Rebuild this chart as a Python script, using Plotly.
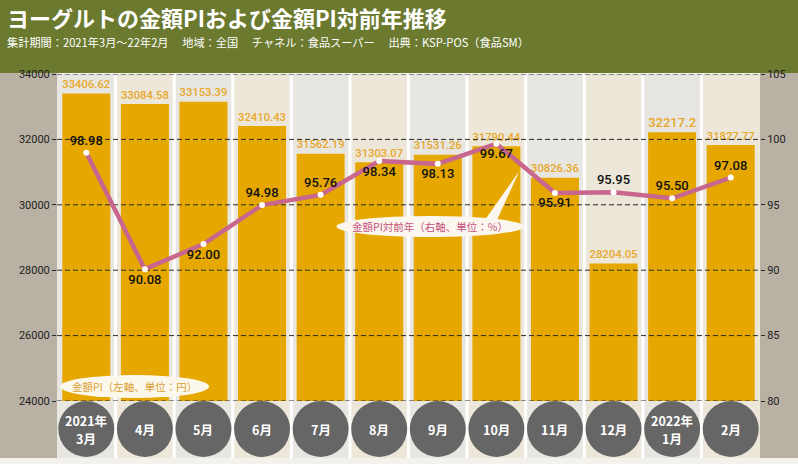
import plotly.graph_objects as go

# ---------------- data ----------------
months = ["2021年<br>3月", "4月", "5月", "6月", "7月", "8月", "9月", "10月",
          "11月", "12月", "2022年<br>1月", "2月"]
pi_values = [33406.62, 33084.58, 33153.39, 32410.43, 31562.19, 31303.07,
             31531.26, 31790.44, 30826.36, 28204.05, 32217.2, 31827.77]
yoy_values = [98.98, 90.08, 92.00, 94.98, 95.76, 98.34, 98.13, 99.67,
              95.91, 95.95, 95.50, 97.08]
yoy_label_side = ["top", "bottom", "bottom", "top", "top", "bottom", "bottom",
                  "bottom", "bottom", "top", "top", "top"]
left_ticks = [24000, 26000, 28000, 30000, 32000, 34000]
right_ticks = [80, 85, 90, 95, 100, 105]

title = "ヨーグルトの金額PIおよび金額PI対前年推移"
subtitle = ("集計期間：2021年3月～22年2月　 地域：全国　 チャネル：食品スーパー　 "
            "出典：KSP-POS（食品SM）")
left_note = "金額PI（左軸、単位：円）"
right_note = "金額PI対前年（右軸、単位：%）"

# ---------------- styling ----------------
W, H = 798, 464
ML, MR, MT, MB = 57, 34, 74, 63
PW, PH = W - ML - MR, H - MT - MB
NUM = "Roboto, sans-serif"
JP = "Noto Sans CJK JP, sans-serif"
BAR = "#e6a800"
LINE = "#c8668e"
GREEN = "#6b7a2f"
SIDE = "#b8b1a4"


def px_x(px):
    return (px - ML) / PW


def px_y(py):
    return (H - MB - py) / PH


n = len(months)
idx = list(range(n))

fig = go.Figure()

fig.add_trace(go.Bar(
    x=idx, y=pi_values,
    marker=dict(color=BAR, line=dict(width=0)),
    text=[f"{v:.2f}".rstrip("0").rstrip(".") for v in pi_values],
    textposition="outside",
    textfont=dict(family=NUM, size=14, color="#e7a82c", weight=500),
    hoverinfo="skip",
))

# dashed gridlines drawn between bars and line
gx, gy = [], []
for t in left_ticks:
    gx += [-0.5, n - 0.5, None]
    gy += [t, t, None]
fig.add_trace(go.Scatter(
    x=gx, y=gy, mode="lines",
    line=dict(color="#2a2a2a", width=1, dash="5px,3px"),
    hoverinfo="skip", cliponaxis=False,
))

fig.add_trace(go.Scatter(
    x=idx, y=yoy_values, yaxis="y2",
    mode="lines+markers+text",
    line=dict(color=LINE, width=4.5),
    marker=dict(size=6, color="white", line=dict(width=0)),
    text=[f"{v:.2f}" for v in yoy_values],
    textposition=[f"{s} center" for s in yoy_label_side],
    textfont=dict(family=NUM, size=13, color="#111111", weight=500),
    cliponaxis=False, hoverinfo="skip",
))

shapes = []
# header band
shapes.append(dict(type="rect", xref="paper", yref="paper", x0=-0.2, x1=1.2,
                   y0=1.0 + 1 / PH, y1=1.3, fillcolor=GREEN, line=dict(width=0),
                   layer="below"))
# side strips
bottom_y = px_y(458)
shapes.append(dict(type="rect", xref="paper", yref="paper", x0=-0.2, x1=0,
                   y0=bottom_y, y1=1.0 + 1 / PH, fillcolor=SIDE, line=dict(width=0),
                   layer="below"))
shapes.append(dict(type="rect", xref="paper", yref="paper", x0=1.0, x1=1.2,
                   y0=bottom_y, y1=1.0 + 1 / PH, fillcolor=SIDE, line=dict(width=0),
                   layer="below"))
# column stripes
for i in idx:
    shapes.append(dict(type="rect", xref="x domain", yref="paper",
                       x0=i / n, x1=(i + 1) / n, y0=bottom_y, y1=1.0,
                       fillcolor="#e8e6e1" if i % 2 == 0 else "#ede7d9",
                       line=dict(width=0), layer="below"))
for i in range(n - 1):
    shapes.append(dict(type="line", xref="x domain", yref="paper",
                       x0=(i + 1) / n, x1=(i + 1) / n, y0=bottom_y, y1=1.0,
                       line=dict(color="white", width=3), layer="below"))
# circles for month labels
cy = px_y(429)
for i in idx:
    shapes.append(dict(type="circle", xref="x domain", yref="paper",
                       xsizemode="pixel", ysizemode="pixel",
                       xanchor=(i + 0.5) / n, yanchor=cy,
                       x0=-28, x1=28, y0=-28, y1=28,
                       fillcolor="#666666", line=dict(width=0), layer="above"))
# left note ellipse
shapes.append(dict(type="circle", xref="paper", yref="paper",
                   x0=px_x(60), x1=px_x(210), y0=px_y(398), y1=px_y(375),
                   fillcolor="#fbf7ea", line=dict(width=0), layer="above"))
# right note pointer + ellipse
shapes.append(dict(type="path", xref="paper", yref="paper",
                   path=(f"M {px_x(486)},{px_y(222)} L {px_x(500)},{px_y(219)} "
                         f"L {px_x(522)},{px_y(171)} Z"),
                   fillcolor="#fbf7ee", line=dict(width=0), layer="above"))
shapes.append(dict(type="circle", xref="paper", yref="paper",
                   x0=px_x(338), x1=px_x(527), y0=px_y(237), y1=px_y(216),
                   fillcolor="#fbf7ee", line=dict(width=0), layer="above"))

annotations = []
annotations.append(dict(xref="paper", yref="paper", x=px_x(5), y=px_y(17),
                        xanchor="left", yanchor="middle", showarrow=False,
                        text=f"<b>{title}</b>",
                        font=dict(family=JP, size=22, color="white")))
annotations.append(dict(xref="paper", yref="paper", x=px_x(5), y=px_y(42),
                        xanchor="left", yanchor="middle", showarrow=False,
                        text=subtitle,
                        font=dict(family=JP, size=11.2, color="white")))
for i, m in enumerate(months):
    parts = m.split("<br>")
    k = len(parts)
    for j, p in enumerate(parts):
        annotations.append(dict(xref="x", yref="paper", x=i, y=cy,
                                yshift=(k - 1) * 9 - j * 18,
                                xanchor="center", yanchor="middle",
                                showarrow=False, text=f"<b>{p}</b>",
                                font=dict(family=JP, size=12.5, color="white")))
annotations.append(dict(xref="paper", yref="paper", x=px_x(135), y=px_y(386.5),
                        xanchor="center", yanchor="middle", showarrow=False,
                        text=left_note,
                        font=dict(family=JP, size=10.5, color="#dc9f34")))
annotations.append(dict(xref="paper", yref="paper", x=px_x(432), y=px_y(226.5),
                        xanchor="center", yanchor="middle", showarrow=False,
                        text=right_note,
                        font=dict(family=JP, size=10.5, color="#c64f7d")))

axis_font = dict(family=NUM, size=11, color="#1e1e1e")
fig.update_layout(
    width=W, height=H,
    margin=dict(l=ML, r=MR, t=MT, b=MB, pad=0),
    paper_bgcolor="#f4f2ed",
    plot_bgcolor="rgba(0,0,0,0)",
    showlegend=False,
    hovermode=False,
    bargap=0.18,
    xaxis=dict(range=[-0.5, n - 0.5], showticklabels=False, showgrid=False,
               zeroline=False, ticks=""),
    yaxis=dict(range=[left_ticks[0], left_ticks[-1]], tickvals=left_ticks,
               tickformat="d",
               showgrid=False, zeroline=False, ticks="outside", ticklen=4,
               tickcolor="#2a2a2a", tickfont=axis_font),
    yaxis2=dict(range=[right_ticks[0], right_ticks[-1]], tickvals=right_ticks,
                overlaying="y", side="right", showgrid=False, zeroline=False,
                ticks="outside", ticklen=4, tickcolor="#2a2a2a",
                tickfont=axis_font),
    shapes=shapes,
    annotations=annotations,
)

fig.write_html(
    "out.html",
    config={"displayModeBar": False},
    post_script="document.body.style.margin='0';document.body.style.overflow='hidden';",
)
